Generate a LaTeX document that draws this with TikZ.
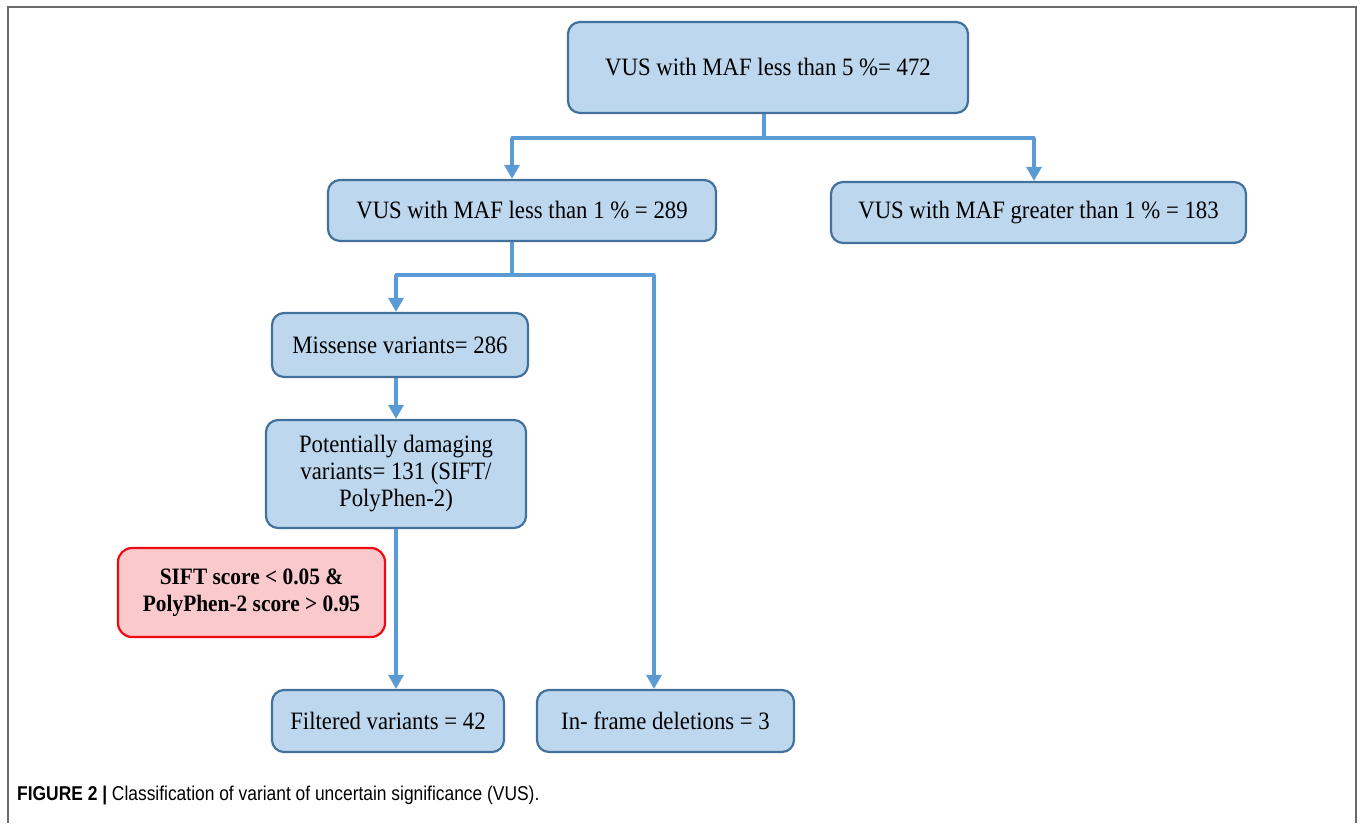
\documentclass[tikz,border=0pt]{standalone}
\usepackage{fontspec}
\setmainfont[FakeStretch=0.91]{Liberation Serif}
\newfontfamily\capfont[FakeStretch=0.87]{Liberation Sans}
\usetikzlibrary{arrows.meta,positioning}
\definecolor{boxfill}{HTML}{BDD7EE}
\definecolor{boxdraw}{HTML}{41719C}
\definecolor{linecol}{HTML}{5B9BD5}
\definecolor{redfill}{HTML}{F9C9CB}
\definecolor{reddraw}{HTML}{F00A12}
\definecolor{framecol}{HTML}{6A6A6A}
\tikzset{
  bluebox/.style={draw=boxdraw, fill=boxfill, line width=2.2pt, rounded corners=12pt,
    align=center, inner sep=0pt, font=\fontsize{25}{27}\selectfont},
  redbox/.style={draw=reddraw, fill=redfill, line width=2.2pt, rounded corners=14pt,
    align=center, inner sep=0pt, font=\fontsize{23.5}{27}\selectfont\bfseries},
  conn/.style={draw=linecol, line width=3.2pt},
  arr/.style={conn, -{Triangle[width=15pt,length=14pt]}},
}
\begin{document}
\begin{tikzpicture}[x=1pt,y=-1pt]
\useasboundingbox (0,0) rectangle (1360,823);
% frame
\draw[framecol, line width=2pt] (7.5,823) -- (7.5,6.5) -- (1355.5,6.5) -- (1355.5,823);

\node[bluebox, minimum width=400pt, minimum height=91pt] (top) at (768,67.5) {VUS with MAF less than 5 \%= 472};
\node[bluebox, minimum width=388pt, minimum height=61pt] (b2) at (522,210.5) {VUS with MAF less than 1 \% = 289};
\node[bluebox, minimum width=415pt, minimum height=61pt] (b3) at (1038.5,212.5) {VUS with MAF greater than 1 \% = 183};
\node[bluebox, minimum width=256pt, minimum height=64pt] (mis) at (400,345) {Missense variants= 286};
\node[bluebox, minimum width=260pt, minimum height=108pt] (pot) at (396,474) {Potentially damaging\\variants= 131 (SIFT/\\PolyPhen-2)};
\node[redbox, minimum width=267pt, minimum height=89pt] (red) at (251.5,592.5) {SIFT score < 0.05 \&\\PolyPhen-2 score > 0.95};
\node[bluebox, minimum width=232pt, minimum height=62pt] (fil) at (388,721) {Filtered variants = 42};
\node[bluebox, minimum width=257pt, minimum height=62pt] (inf) at (665.5,721) {In- frame deletions = 3};

\node[anchor=base west, inner sep=0pt, font=\capfont\fontsize{20}{22}\selectfont] (cap) at (17,800)
  {\textbf{FIGURE 2 |} Classification of variant of uncertain significance (VUS).};

% connectors
\coordinate (j1) at (764,138);
\coordinate (j1l) at (512,138);
\coordinate (j1r) at (1034,138);
\draw[conn] ([xshift=-4pt]top.south) -- (j1);
\draw[conn, line cap=round] (j1l) -- (j1r);
\draw[arr] (j1l) -- (j1l |- b2.north);
\draw[arr] (j1r) -- (j1r |- b3.north);

\coordinate (j2) at (512,275);
\coordinate (j2l) at (396,275);
\coordinate (j2r) at (654,275);
\draw[conn] ([xshift=-10pt]b2.south) -- (j2);
\draw[conn, line cap=round] (j2l) -- (j2r);
\draw[arr] (j2l) -- (j2l |- mis.north);
\draw[arr] (j2r) -- (j2r |- inf.north);

\draw[arr] ([xshift=-4pt]mis.south) -- ([xshift=-4pt]mis.south |- pot.north);
\draw[arr] (pot.south) -- (pot.south |- fil.north);
\end{tikzpicture}
\end{document}
